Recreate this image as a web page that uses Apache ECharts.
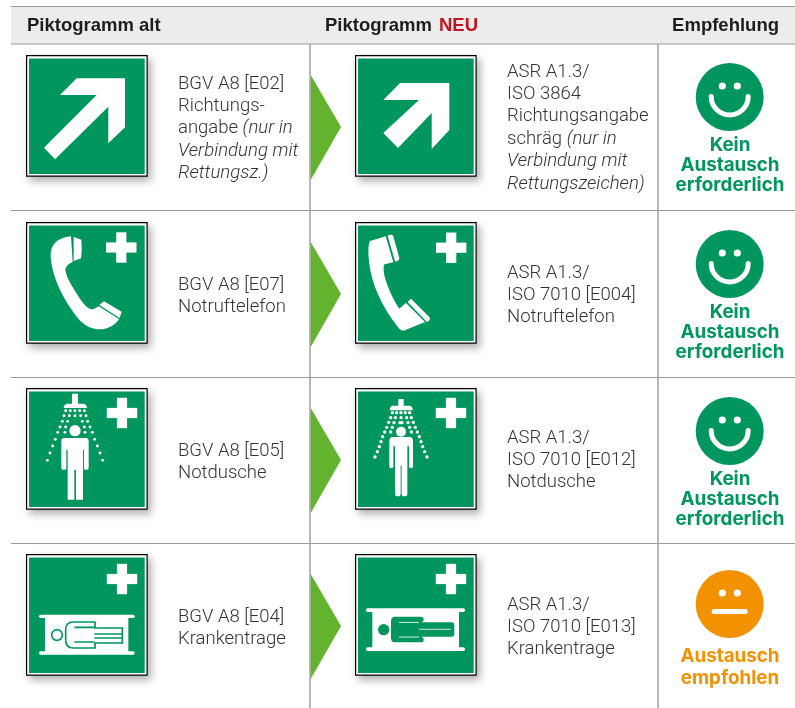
<!DOCTYPE html>
<html>
<head>
<meta charset="utf-8">
<style>html,body{margin:0;padding:0;background:#fff}</style>
<script src="https://cdn.jsdelivr.net/npm/echarts@6/dist/echarts.min.js"></script>
</head>
<body>
<div id="tafel" style="width:795px;height:708px;"></div>
<script>
// Inhalte der Tabelle
var kopfTexte = ['Piktogramm alt', 'Piktogramm ', 'NEU', 'Empfehlung'];
var zeilen = [0, 1, 2, 3];
var textAlt = [
    ['BGV A8 [E02]', 'Richtungs-', 'angabe {i|(nur in}', '{i|Verbindung mit}', '{i|Rettungsz.)}'],
    ['BGV A8 [E07]', 'Notruftelefon'],
    ['BGV A8 [E05]', 'Notdusche'],
    ['BGV A8 [E04]', 'Krankentrage']
];
var textNeu = [
    ['ASR A1.3/', 'ISO 3864', 'Richtungsangabe', 'schräg {i|(nur in}', '{i|Verbindung mit}', '{i|Rettungszeichen)}'],
    ['ASR A1.3/', 'ISO 7010 [E004]', 'Notruftelefon'],
    ['ASR A1.3/', 'ISO 7010 [E012]', 'Notdusche'],
    ['ASR A1.3/', 'ISO 7010 [E013]', 'Krankentrage']
];
var empfehlung = [
    ['Kein', 'Austausch', 'erforderlich'],
    ['Kein', 'Austausch', 'erforderlich'],
    ['Kein', 'Austausch', 'erforderlich'],
    ['Austausch', 'empfohlen']
];
var smileyArt = ['gut', 'gut', 'gut', 'neutral'];

var GRUEN = '#00965e', PFEIL = '#64b32e', ROT = '#be1622', ORANGE = '#f39200';
var LINIE = '#9a9a9a', TEXT = '#333333', KOPF = '#1d1d1b';
var SCHRIFT = '"Liberation Sans", Arial, sans-serif';
var signY = [55, 222, 388, 554];
var smileyY = [97, 264, 431, 604];
var altLinesY = [84, 285, 451, 617];
var neuLinesY = [72, 273, 438, 605];
var labelY = [145, 312, 479, 656];

function weiss(d) { return { type: 'path', shape: { pathData: d }, style: { fill: '#fff' } }; }
function kreuz(x, y) {
    return {
        type: 'group', children: [
            { type: 'rect', shape: { x: x - 15.2, y: y - 5.1, width: 30.4, height: 10.2 }, style: { fill: '#fff' } },
            { type: 'rect', shape: { x: x - 5.1, y: y - 15.2, width: 10.2, height: 30.4 }, style: { fill: '#fff' } }
        ]
    };
}
function punkte(list, cx, r) {
    // Tropfen, gespiegelt um die Mittelachse
    var out = [];
    list.forEach(function (p) {
        out.push({ type: 'circle', shape: { cx: p[0], cy: p[1], r: r }, style: { fill: '#fff' } });
        if (p[0] !== cx) {
            out.push({ type: 'circle', shape: { cx: 2 * cx - p[0], cy: p[1], r: r }, style: { fill: '#fff' } });
        }
    });
    return out;
}

// Symbole in 3x Koordinaten, relativ zur Schildecke
var symbole = {
    alt: [
        function () {
            return [{ type: 'polygon', shape: { points: [[50.7, 23.3], [99, 23.3], [99, 72.3], [82.3, 88.3], [82.3, 51.7], [29, 104.3], [18, 92.7], [70.7, 40], [34, 40]] }, style: { fill: '#fff' } }];
        },
        function () {
            return [kreuz(95.3, 25.5), {
                type: 'group', scaleX: 1 / 3, scaleY: 1 / 3, x: -26, y: -11.7, children: [
                    weiss('M213 78 C170 82 150 105 152 140 C156 200 190 270 235 325 C255 348 285 362 315 355 C335 350 350 338 357 326 L296 288 L280 297 C268 298 255 288 240 265 C222 238 200 205 196 180 C196 170 205 160 218 155 Z'),
                    weiss('M221 80 L244 88 C246 110 245 130 243 144 L221 152 Z'),
                    weiss('M312 273 L365 304 L359 323 L298 284 Z')
                ]
            }];
        },
        function () {
            return [kreuz(96, 25), {
                type: 'group', scaleX: 1 / 3, scaleY: 1 / 3, x: -11, y: -8.3, children: [
                    weiss('M171 42 H189 V72 H205 Q216 74 216 85 H146 Q146 74 157 72 H171 Z'),
                    { type: 'circle', shape: { cx: 180, cy: 153, r: 17 }, style: { fill: '#fff' } },
                    weiss('M148 175 H212 Q221 175 221 185 V265 Q221 270 216 270 H210 Q207 270 207 265 V210 H204 V360 H183 V270 H178 V360 H158 V210 H154 V265 Q154 270 150 270 H144 Q139 270 139 265 V185 Q139 175 148 175 Z')
                ].concat(punkte([[152, 93], [166, 93], [180, 93], [147, 108], [163, 108], [180, 108], [142, 125], [158, 125], [135, 142], [152, 142], [128, 158], [150, 158], [121, 179], [113, 199], [105, 220], [97, 242]], 180, 4.4))
            }];
        },
        function () {
            return [kreuz(96, 25), {
                type: 'group', scaleX: 1 / 3, scaleY: 1 / 3, x: -11, y: -9.3, children: [
                    { type: 'rect', shape: { x: 90, y: 212, width: 250, height: 116 }, style: { fill: '#fff' } },
                    { type: 'rect', shape: { x: 72, y: 210, width: 287, height: 10, r: 5 }, style: { fill: '#fff' } },
                    { type: 'rect', shape: { x: 72, y: 320, width: 287, height: 10, r: 5 }, style: { fill: '#fff' } },
                    { type: 'circle', shape: { cx: 126, cy: 271, r: 16 }, style: { fill: '#fff', stroke: GRUEN, lineWidth: 5 } },
                    { type: 'path', shape: { pathData: 'M240 232 H175 Q152 232 152 255 V285 Q152 310 175 310 H240 V295 H322 V250 H240 Z M178 248 H238 M178 292 H238 M238 268 H322 M238 280 H322' }, style: { fill: 'none', stroke: GRUEN, lineWidth: 5 } }
                ]
            }];
        }
    ],
    neu: [
        function () {
            return [{ type: 'polygon', shape: { points: [[45, 28], [94.3, 28], [94.3, 75], [76.7, 94], [76.7, 58], [43, 93], [28.3, 78], [64, 45], [28.3, 45]] }, style: { fill: '#fff' } }];
        },
        function () {
            return [kreuz(96.2, 25.7), {
                type: 'group', scaleX: 1 / 3, scaleY: 1 / 3, x: -15, y: -11.7, children: [
                    weiss('M137 78 L90 92 C84 105 84 125 88 160 C95 220 125 290 178 355 C185 362 192 362 198 358 L255 335 L198 278 L178 295 C160 270 140 225 133 195 C130 178 130 165 134 162 L160 156 Z'),
                    weiss('M143 77 C148 72 158 72 160 78 L178 143 C178 150 170 155 165 153 Z'),
                    weiss('M203 275 L213 265 L270 322 C270 328 265 335 260 334 Z')
                ]
            }];
        },
        function () {
            return [kreuz(96, 25), {
                type: 'group', scaleX: 1 / 3, scaleY: 1 / 3, x: -10, y: -8.3, children: [
                    weiss('M160 58 H176 V78 H194 Q203 80 203 92 H134 Q134 80 143 78 H160 Z'),
                    { type: 'circle', shape: { cx: 168, cy: 156, r: 15 }, style: { fill: '#fff' } },
                    weiss('M144 172 H193 Q204 172 204 184 V260 Q204 266 198 266 Q192 266 192 260 V200 H187 V343 Q187 350 179 350 Q170 350 170 343 V258 H167 V343 Q167 350 158 350 Q150 350 150 343 V200 H145 V260 Q145 266 139 266 Q133 266 133 260 V184 Q133 172 144 172 Z')
                ].concat(punkte([[142, 99], [155, 99], [168, 99], [137, 114], [151, 114], [168, 114], [131, 128], [147, 129], [165, 129], [125, 143], [142, 143], [119, 157], [137, 157], [113, 171], [108, 186], [103, 201], [97, 216], [90, 232]], 168, 5))
            }];
        },
        function () {
            return [kreuz(96, 25), {
                type: 'group', scaleX: 1 / 3, scaleY: 1 / 3, x: -10, y: -9.3, children: [
                    { type: 'rect', shape: { x: 82, y: 195, width: 260, height: 120 }, style: { fill: '#fff' } },
                    { type: 'rect', shape: { x: 63, y: 191, width: 297, height: 11, r: 5.5 }, style: { fill: '#fff' } },
                    { type: 'rect', shape: { x: 63, y: 308, width: 297, height: 11, r: 5.5 }, style: { fill: '#fff' } },
                    { type: 'circle', shape: { cx: 116, cy: 255, r: 17 }, style: { fill: GRUEN } },
                    { type: 'path', shape: { pathData: 'M150 216 H228 Q236 216 236 224 Q236 232 228 233 H320 Q328 233 328 241 V268 Q328 276 320 276 H228 Q236 277 236 285 Q236 293 228 293 H150 Q138 293 138 280 V230 Q138 216 150 216 Z' }, style: { fill: GRUEN } },
                    { type: 'line', shape: { x1: 222, y1: 254, x2: 318, y2: 254 }, style: { stroke: '#a5d3bd', lineWidth: 4 } },
                    { type: 'line', shape: { x1: 162, y1: 233, x2: 222, y2: 233 }, style: { stroke: '#fff', lineWidth: 2.5 } },
                    { type: 'line', shape: { x1: 162, y1: 277, x2: 222, y2: 277 }, style: { stroke: '#fff', lineWidth: 2.5 } }
                ]
            }];
        }
    ]
};

function schild(x, y, kinder) {
    return {
        type: 'group', x: x, y: y, children: [
            { type: 'rect', shape: { x: 0, y: 0, width: 121.7, height: 121.7 }, style: { fill: '#000', shadowBlur: 8, shadowOffsetX: 3, shadowOffsetY: 4, shadowColor: 'rgba(0,0,0,0.32)' } },
            { type: 'rect', shape: { x: 1.2, y: 1.2, width: 119.3, height: 119.3 }, style: { fill: '#fff' } },
            { type: 'rect', shape: { x: 3, y: 3.5, width: 115.7, height: 115.5 }, style: { fill: GRUEN } }
        ].concat(kinder)
    };
}

function smiley(art, y) {
    var farbe = art === 'gut' ? GRUEN : ORANGE;
    var mund = art === 'gut'
        ? { type: 'arc', shape: { cx: 0, cy: -0.5, r: 18.5, startAngle: 0, endAngle: Math.PI, clockwise: true }, style: { fill: 'none', stroke: '#fff', lineWidth: 5, lineCap: 'round' } }
        : { type: 'rect', shape: { x: -18, y: 5, width: 36, height: 5, r: 2.5 }, style: { fill: '#fff' } };
    return {
        type: 'group', x: 729.7, y: y, children: [
            { type: 'circle', shape: { cx: 0, cy: 0, r: 34 }, style: { fill: farbe } },
            { type: 'circle', shape: { cx: -7.4, cy: -11, r: 3.6 }, style: { fill: '#fff' } },
            { type: 'circle', shape: { cx: 7.6, cy: -11, r: 3.6 }, style: { fill: '#fff' } },
            mund
        ]
    };
}

function textBlock(zeilenText, x, y) {
    return zeilenText.map(function (t, i) {
        return {
            type: 'text',
            style: {
                x: x, y: y + i * 22.4, text: t, fill: TEXT, verticalAlign: 'middle', align: 'left',
                font: '300 18.5px Roboto, ' + SCHRIFT,
                rich: { i: { fontStyle: 'italic', fontWeight: 300, fontSize: 18.6, fontFamily: 'Roboto', fill: TEXT } }
            }
        };
    });
}

function kopfText(t, x, farbe, align) {
    return { type: 'text', style: { x: x, y: 25.5, text: t, fill: farbe, align: align, verticalAlign: 'middle', font: 'bold 18.5px ' + SCHRIFT } };
}

function renderRaster() {
    var kinder = [
        { type: 'rect', shape: { x: 11, y: 6, width: 784, height: 38 }, style: { fill: '#ececec' } },
        { type: 'line', shape: { x1: 11, y1: 6.5, x2: 795, y2: 6.5 }, style: { stroke: LINIE, lineWidth: 1.2 } },
        { type: 'line', shape: { x1: 11, y1: 44, x2: 795, y2: 44 }, style: { stroke: LINIE, lineWidth: 1.2 } },
        { type: 'line', shape: { x1: 11, y1: 210.5, x2: 795, y2: 210.5 }, style: { stroke: LINIE, lineWidth: 1.2 } },
        { type: 'line', shape: { x1: 11, y1: 377.5, x2: 795, y2: 377.5 }, style: { stroke: LINIE, lineWidth: 1.2 } },
        { type: 'line', shape: { x1: 11, y1: 543.5, x2: 795, y2: 543.5 }, style: { stroke: LINIE, lineWidth: 1.2 } },
        { type: 'line', shape: { x1: 310, y1: 44, x2: 310, y2: 708 }, style: { stroke: LINIE, lineWidth: 1.4 } },
        { type: 'line', shape: { x1: 658, y1: 44, x2: 658, y2: 708 }, style: { stroke: LINIE, lineWidth: 1.4 } },
        kopfText(kopfTexte[0], 27, KOPF, 'left'),
        kopfText(kopfTexte[1], 325, KOPF, 'left'),
        kopfText(kopfTexte[2], 478, ROT, 'right'),
        kopfText(kopfTexte[3], 779, KOPF, 'right')
    ];
    return { type: 'group', children: kinder };
}

function renderZeile(params, api) {
    var i = api.value(0);
    var y = signY[i];
    var kinder = [
        { type: 'polygon', shape: { points: [[310.7, y + 20], [341, y + 72], [310.7, y + 125]] }, style: { fill: PFEIL } },
        schild(26, y, symbole.alt[i]()),
        schild(355, y, symbole.neu[i]()),
        smiley(smileyArt[i], smileyY[i])
    ];
    kinder = kinder.concat(textBlock(textAlt[i], 178, altLinesY[i]));
    kinder = kinder.concat(textBlock(textNeu[i], 507, neuLinesY[i]));
    empfehlung[i].forEach(function (t, k) {
        kinder.push({
            type: 'text',
            style: {
                x: 730, y: labelY[i] + k * (empfehlung[i].length === 2 ? 22 : 20.4), text: t,
                fill: smileyArt[i] === 'gut' ? GRUEN : ORANGE, align: 'center', verticalAlign: 'middle',
                font: '700 18.8px Inter, ' + SCHRIFT
            }
        });
    });
    return { type: 'group', children: kinder };
}

var tafel = echarts.init(document.getElementById('tafel'));
tafel.setOption({
    backgroundColor: '#fff',
    animation: false,
    series: [
        { type: 'custom', coordinateSystem: 'none', silent: true, clip: false, data: [0], renderItem: renderRaster },
        { type: 'custom', coordinateSystem: 'none', silent: true, clip: false, data: zeilen, encode: { value: 0 }, renderItem: renderZeile }
    ]
});
</script>
</body>
</html>
